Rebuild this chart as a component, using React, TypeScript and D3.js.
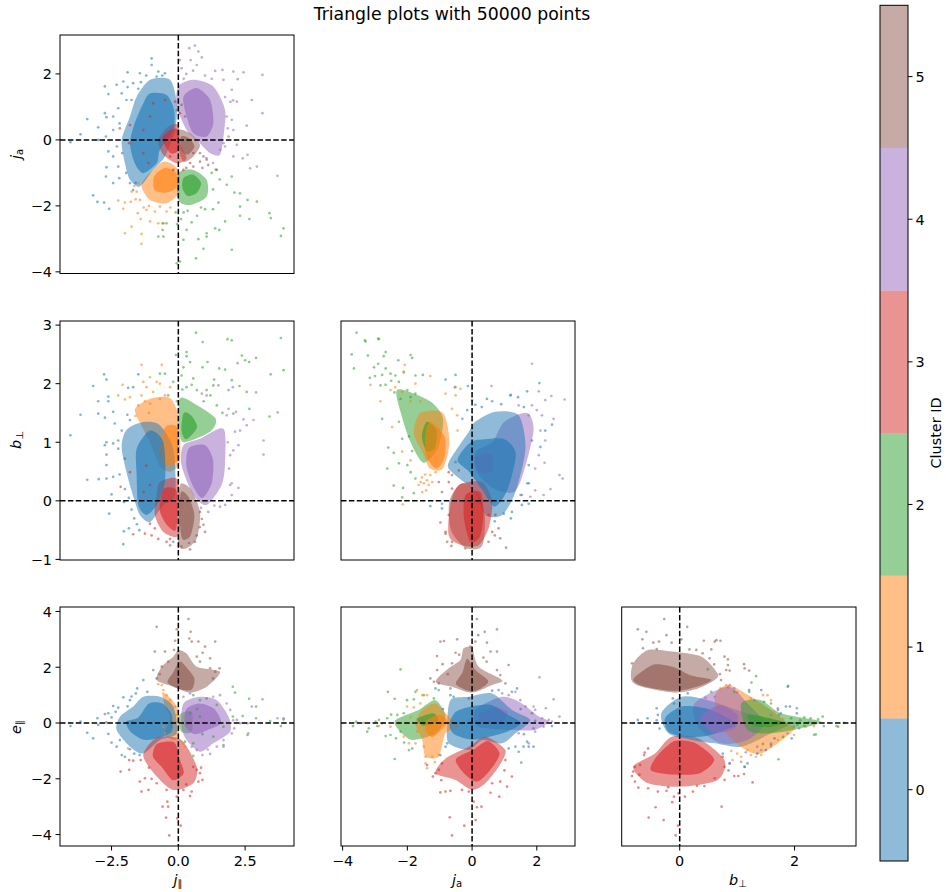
import React from "react";
import * as d3 from "d3";

// ---------- categories and axes ----------
const clusterIds = [0, 1, 2, 3, 4, 5];
const clusterColors = ["#1f77b4", "#ff7f0e", "#2ca02c", "#d62728", "#9467bd", "#8c564b"];
const jparDomain = [-4.43, 4.33];
const jaDomain = [-4.05, 3.18];
const bperpDomain = [-1.01, 3.07];
const eparDomain = [-4.41, 4.16];
const jparTicks = [-2.5, 0, 2.5];
const jaXTicks = [-4, -2, 0, 2];
const bperpXTicks = [0, 2];
const jaYTicks = [-4, -2, 0, 2];
const bperpYTicks = [-1, 0, 1, 2, 3];
const eparYTicks = [-4, -2, 0, 2, 4];

// ---------- dense regions, read as outlines: flat x,y lists per cluster ----------
const jparJaOuter = [
  [-1.06,1.82,-.31,1.82,-.06,1.11,-.12,.3,-.5,-.5,-.94,-.9,-1.44,-1.41,-1.81,-1.21,-2,-.7,-2.12,0,-1.81,.71,-1.56,1.31],
  [-1.19,-1.11,-.56,-.66,0,-.91,0,-1.62,-.44,-1.92,-1.06,-1.82,-1.38,-1.41],
  [0,-1.01,.56,-.91,1.06,-1.21,1.06,-1.72,.44,-1.97,0,-1.82],
  [-.75,0,-.38,.4,0,.45,.06,-.1,.31,-.56,-.06,-.71,-.56,-.45],
  [0,1.62,.56,1.82,1.31,1.62,1.75,.91,1.69,.1,1.56,-.45,1.19,-.4,.69,0,.31,.3,-.06,1.01],
  [0,.3,.44,.2,.81,-.15,.56,-.5,.19,-.66,0,-.2],
];
const jparJaInner = [
  [-1.06,1.41,-.44,1.36,-.16,.91,-.19,.3,-.69,-.3,-.81,-.71,-1.31,-1.01,-1.63,-.71,-1.81,-.1,-1.63,.51,-1.31,1.11],
  [-.9,-1.1,-.5,-.85,-.08,-1,-.08,-1.45,-.5,-1.6,-.9,-1.5],
  [.2,-1.15,.55,-1.05,.85,-1.3,.7,-1.6,.35,-1.7,.15,-1.45],
  [-.6,.05,-.3,.3,-.02,.3,.02,-.3,-.3,-.4],
  [.19,1.31,.69,1.57,1.19,1.21,1.31,.51,1.06,.1,.56,.2,.31,.71],
  [.1,.1,.4,.05,.6,-.2,.35,-.45,.1,-.3],
];
const jparBperpOuter = [
  [-1.69,1.29,-1.19,1.35,-.69,1.29,-.19,.89,-.12,.1,-.56,-.07,-1.06,-.36,-1.44,-.24,-1.62,-.02,-1.88,.38,-2.12,.89,-2,1.17],
  [-1.62,1.57,-1,1.75,-.3,1.75,.02,1.4,.06,.68,-.3,.5,-.7,.6,-1.06,1,-1.4,1.3],
  [.06,1.75,.7,1.63,1.4,1.4,1.19,1.18,.19,1,.05,1.25],
  [-.69,.32,-.06,.38,.06,-.02,0,-.59,-.56,-.53,-.88,-.24,-.81,.1],
  [.19,.95,.81,1.06,1.69,1.23,1.75,.66,1.62,.27,1.06,-.07,.56,.1,.12,.61],
  [.06,.27,.44,.21,.81,-.19,.69,-.64,.31,-.81,0,-.76,.04,-.24],
];
const jparBperpInner = [
  [-1.56,.89,-1.06,1.2,-.56,1,-.5,.32,-.81,-.07,-1.19,-.24,-1.5,-.07,-1.56,.44],
  [-.5,1.25,-.05,1.25,-.02,.7,-.45,.6,-.7,.8],
  [.2,1.5,.5,1.45,.7,1.25,.3,1.05,.12,1.2],
  [-.55,.2,-.1,.2,-.02,-.1,-.1,-.5,-.45,-.4,-.7,-.15],
  [.4,.9,1,.95,1.3,.7,1.25,.3,.9,.05,.55,.25,.3,.6],
  [.1,.15,.4,.05,.6,-.25,.45,-.6,.15,-.65,.05,-.3],
];
const jaBperpOuter = [
  [-.72,.66,-.1,1.18,.1,1.35,.72,1.52,1.44,1.46,1.65,.89,1.34,.15,.93,-.24,.41,-.24,.1,.15,-.62,.49],
  [-1.6,1.5,-.9,1.5,-.7,1,-.9,.55,-1.3,.55,-1.5,.8,-1.8,1.15],
  [-2.3,1.9,-1.3,1.7,-.9,1.4,-1.05,.9,-1.5,.65,-1.9,1,-2.2,1.5],
  [-.67,-.07,-.41,.27,.31,.32,.62,-.02,.51,-.47,.2,-.76,-.31,-.76,-.72,-.59],
  [.1,.83,.62,1,1,1.35,1.7,1.5,1.9,1.2,1.6,.5,1.3,.15,.7,.2,.2,.45],
  [-.7,0,-.3,.3,.2,.1,.4,-.3,.3,-.78,-.2,-.8,-.65,-.5],
];
const jaBperpInner = [
  [-.45,.7,-.05,1,.4,1.05,1,1.05,1.35,.8,1.1,.2,.7,-.1,.3,.2,-.1,.5],
  [-1.3,1.35,-.85,1.1,-.85,.75,-1.1,.55,-1.4,.75,-1.45,1.1],
  [-1.4,1.35,-1.1,1.2,-1.15,.9,-1.4,.85,-1.55,1.1],
  [-.2,.1,.25,.15,.35,-.2,.25,-.6,-.05,-.7,-.25,-.3],
  [.1,.75,.6,.8,.6,.5,.15,.5],
  [],
];
const jparEparOuter = [
  [-1.31,.94,-.69,.94,-.19,.59,-.06,-.37,-.69,-.61,-1.31,-1.09,-1.81,-.85,-2.31,-.25,-2.19,.22,-1.69,.59],
  [-.6,1.1,-.3,.9,-.02,.5,.05,-.2,-.1,-.6,-.5,-.4,-.3,.2,-.5,.6],
  [.05,.3,.5,.4,.5,-.3,.1,-.3],
  [-1.06,-.73,-.69,-.49,.12,-.61,.69,-1.57,.56,-2.16,-.19,-2.4,-.81,-1.92,-1.31,-1.21],
  [.19,.7,.81,.94,1.44,.82,1.88,.23,1.94,-.31,1.31,-.73,.81,-1.03,.31,-.61,.12,-.13],
  [0,2.62,.31,2.49,.69,2.02,1.56,1.84,1.06,1.3,.44,1.09,-.19,1.3,-.81,1.54,-.62,2.02,-.19,2.38],
];
const jparEparInner = [
  [-1.1,.7,-.6,.7,-.25,.3,-.25,-.3,-.8,-.55,-1.3,-.6,-1.8,-.3,-1.95,.05,-1.5,.2],
  [],
  [],
  [-.8,-.75,-.15,-.7,.05,-1.3,.2,-1.8,-.2,-2.05,-.6,-1.6,-.95,-1.2],
  [.3,.5,.8,.7,1.35,.5,1.6,0,1.1,-.25,.6,-.4,.25,-.1],
  [.05,2.2,.3,2,.6,1.6,.5,1.2,.1,1.2,-.4,1.45,-.2,1.8],
];
const jaEparOuter = [
  [-.67,.82,-.1,.94,.62,1.06,1.23,.47,1.8,.11,1.34,-.37,.93,-.73,.31,-.61,-.1,-.97,-.72,-.73,-.77,-.13],
  [-1.75,-.01,-1.54,.47,-1.13,.7,-.72,.23,-.41,-.13,-.82,-.37,-1.03,-1.2,-1.44,-1.2,-1.54,-.6],
  [-2.37,.11,-1.65,.47,-1.13,.82,-.82,.23,-1.13,-.37,-1.85,-.61,-2.26,-.25],
  [-.82,-1.27,-.1,-.85,.41,-.49,1.03,-.97,.82,-1.57,.41,-2.16,0,-2.4,-.51,-2.04,-1.13,-1.8],
  [.1,.47,.93,.94,1.54,.7,2.06,.23,2.37,.05,1.95,-.25,1.34,-.25,.2,-.13],
  [-.26,2.68,0,2.68,.2,2.02,.93,1.54,.62,1.36,0,1.09,-.62,1.3,-1.13,1.48,-.72,1.96,-.36,2.26],
];
const jaEparInner = [
  [-.5,.4,0,.6,.6,.65,1.1,.3,1.5,0,1.1,-.3,.5,-.5,0,-.6,-.55,-.4,-.7,-.05],
  [-1.4,.1,-1,.3,-.75,.05,-1,-.3,-1.25,-.5,-1.45,-.2],
  [-1.7,.15,-1.2,.35,-1.05,.05,-1.5,-.1],
  [-.5,-1.3,.05,-.95,.5,-.65,.85,-1.1,.55,-1.7,.15,-2.1,-.25,-1.8],
  [.2,.3,.7,.55,1.1,.4,.9,0,.3,0],
  [-.15,2.3,.1,1.9,.5,1.5,.2,1.2,-.1,1.15,-.5,1.4,-.3,1.8],
];
const bperpEparOuter = [
  [-.32,.35,.03,.94,.49,.82,1.18,.35,1.88,-.01,1.59,-.37,1.07,-.85,.61,-.73,.2,-.61,-.2,-.37],
  [.61,.94,.84,1.36,1.24,.94,1.59,.47,1.88,-.01,1.99,-.25,1.42,-1.09,1.07,-.85,.72,-.13],
  [1.07,.7,1.42,.82,1.76,.35,2.46,.05,2.11,-.19,1.59,-.37,1.18,-.25],
  [-.43,-1.09,-.14,-.49,.32,-.55,.78,-1.33,.66,-2.04,.03,-2.28,-.55,-2.16,-.81,-1.57],
  [.26,.7,.84,1.3,1.18,.7,1.47,-.01,1.18,-.61,.72,-.73,.32,-.13],
  [-.81,2.14,-.55,2.62,-.14,2.56,.38,2.38,.66,1.78,.61,1.54,.32,1.24,-.09,1.09,-.66,1.3,-.84,1.54],
];
const bperpEparInner = [
  [-.25,.2,.05,.6,.5,.5,.9,.1,.95,-.1,.5,-.45,.1,-.5,-.2,-.3],
  [],
  [1.2,.3,1.6,.15,1.8,0,1.55,-.15,1.25,-.05],
  [-.4,-1.2,-.1,-.65,.25,-.7,.6,-1.3,.35,-1.8,-.1,-1.85,-.5,-1.7],
  [.4,.3,.7,.65,1,.3,.95,-.2,.6,-.35,.4,0],
  [-.75,1.7,-.45,2.1,-.1,2,.2,1.7,.55,1.55,.3,1.3,-.1,1.15,-.6,1.3,-.8,1.5],
];

// ---------- individually readable points: flat x,y lists per cluster ----------
const jparJaPoints = [
  [-1,2.47,-1,2.27,-1.9,2.05,-1.44,2.02,-2.75,1.62,-2.31,1.67,-2.06,1.77,-2.62,1.39,-3.41,.63,-3,.38,-3.66,.17,-4.04,-.07,-3,0,-2.71,.1,-2.75,.81,-2.69,.69,-2.44,.71,-2.44,.3,-2.62,-.35,-2.44,-.5,-2.69,-.83,-2.25,-.81,-2.71,-1.11,-2.21,-1.16,-2.44,-1.31,-3.19,-1.68,-3.03,-1.88,-2.78,-1.9,-2.59,-2.09,-1.81,-1.31,-1.69,-1.52,-1.75,1.21,-1.94,1.21,-2.25,.96,-2.12,1.41,-1.69,1.72,-.75,2.07,-.5,2.02,-.81,1.92,-1.4,1.75,-1.2,1.95,-.6,1.95,-2.2,.5,-2.3,-.2,-2.1,-.4,-1.95,-1,-1.6,-1.3,-1.9,1.6,-1.5,1.55],
  [-2,-2.83,-1.38,-2.85,-1.38,-3.15,-1.75,-2.63,-1.41,-2.4,-1.06,-2.47,-1.52,-2.22,-2.06,-2.09,-2.25,-1.84,-2,-1.9,-1.78,-1.88,-.75,-2.53,-.6,-2.53,-1.56,-1.57,-1.75,-1.57,-1.19,-2.12,-.88,-2.17,-.69,-2.02,-.44,-2.17,-1.44,-1.82,-1.1,-2,-1.3,-2.05,-1.6,-1.8,-.3,-2.05,-1.5,-1.3,-1.65,-1.4],
  [-.06,-3.74,.06,-3.69,.66,-3.59,.94,-3.3,2,-3.33,3.84,-2.91,3.94,-2.68,3.41,-2.22,3.46,-2.37,2.94,-1.87,2.59,-1.82,2.66,-2.4,2.31,-2.3,2.31,-2.02,2.1,-1.6,2.31,-1.62,1.81,-1.36,2,-1.11,1.75,-2.47,1.38,-2.68,1.53,-2.73,1.06,-2.83,1.06,-2.93,.75,-3.01,.19,-3.03,.31,-2.73,-.44,-2.53,-.56,-2.53,-.59,-2.73,-.75,-2.93,-.56,-2.93,.1,-2.4,.2,-2.2,.5,-2.5,.7,-2.3,1,-2.1,1.3,-2.1,1.5,-1.9,1.3,-1.5,1.55,-1.2,1.25,-1,1.4,-.9,-.1,-2.2,-.05,-2.55,.35,-2.15,.85,-2.05],
  [-1.81,.45,-2.19,.35,-1.84,-.1,-.94,1.11,-.12,1.16,-1.31,.3,-1.12,-.7,-1.31,-.4,.06,.81,.44,-.7,.19,-.91,-.19,-.91,-.31,-.5,.56,-.4,-1.06,.71,-.5,1.21],
  [.62,2.86,.41,2.78,.88,2.5,.75,2.68,.46,2.42,.06,2.42,.69,2.27,.12,2.17,1.38,2.09,1.65,2.12,2.06,2.07,2.44,2.05,3.15,1.97,1.69,1.82,2.22,1.84,2,1.52,2.19,1.16,2.75,1.21,3.15,.81,2.56,.43,2,.61,1.81,.71,2.06,.3,1.88,.1,2.19,-.15,2.59,-.45,2.06,-.5,2.41,-.56,2.94,-.81,2.69,-.86,3.71,-1.09,1.69,-.1,1.56,-.3,.3,2,.55,2.1,1,1.95,1.25,1.85,.2,1.85,1.75,1.3,1.95,1.15,2.05,1.2,1.85,.35,1.75,-.2,1.3,-.7,1.05,-.55],
  [1.12,-.76,1.44,-.91,.81,-.66,.94,-.5,.56,-.81,1.06,-.6,-.06,.9,.12,1.06,.25,.71,.81,-.4,.9,-.85,.3,-.85],
];
const jparBperpPoints = [
  [-4.04,1.12,-3.66,1.47,-3.19,1.96,-2.78,2.16,-2.69,2.07,-3,1.7,-3,1.49,-2.62,1.78,-2.62,1.7,-2.75,1.42,-2.44,1.52,-2.38,1.32,-2.69,1,-2.75,.95,-2.44,.98,-2.69,.79,-2.25,.89,-2.69,.61,-2.69,.38,-2.98,.37,-3.41,.36,-2.44,.41,-2.5,.11,-2.59,-.22,-2.04,-.02,-2.06,-.74,-2.04,-.52,-1.85,-.47,-1.46,-.5,-1.5,2.16,-1.88,1.93,-1.69,1.94,-1.91,1.47,-1.81,1.38,-2.12,1.2,-2.25,1.03,-2,.72,-2.2,.45,-2,.2,-1.85,.05,-1.75,-.15,-1.65,-.3,-1.55,-.4],
  [-1.38,2.32,-.62,2.32,-2.09,1.98,-2.25,1.8,-2,1.73,-1.81,1.77,-1.31,2.03,-1.06,2.11,-.81,2.03,-.69,2,-1.19,1.94,-.5,1.8,-.31,1.94,-.94,1.86,-1.5,1.63,-1.38,1.8,-1.06,1.66,-.69,1.74,-1.1,1.5,-1.6,1.45,-1.25,1.7],
  [.66,2.87,.91,2.71,1.84,2.76,2,2.74,3.84,2.78,3.94,2.23,3.46,2.16,2.91,2.44,2.38,2.48,2.5,2.4,2.65,2.37,.31,2.54,.31,2.47,-.09,2.49,.44,2.37,1.09,2.37,.91,2.28,.19,2.28,1.53,2.26,1.75,2.24,-.5,2.17,-.69,2.17,.12,2.14,.56,2.09,1.34,2.07,2,2.06,2.29,1.96,2.56,1.86,1.88,1.89,1.31,1.97,1.06,1.89,.31,1.94,.69,1.89,3.41,1.44,2.66,1.57,2.06,1.49,-.19,2.03,-.38,1.8,1.44,1.63,1.2,1.8,.5,1.98,.15,1.9,-.05,1.7,.95,1.7,1.65,1.5],
  [-2.16,.24,-1.81,.49,-1.69,-.57,-1.25,-.56,-1,-.59,-.75,-.65,-1.06,-.39,-.88,-.47,-.44,-.7,-.31,-.65,-1.06,.27,-1.3,.15,-1.2,.6],
  [2.22,2.35,2.91,1.85,3.72,1.51,3.19,1.03,3.19,.79,2.81,1.38,2.44,1.39,2.56,1.29,2.31,1.2,2.12,1.18,2.16,1.52,1.88,1.57,1.5,1.97,2.04,1.94,2.25,.95,2.06,.86,1.94,.78,2,.3,2.25,.22,1.94,.27,2,.1,1.75,-.07,1.56,-.1,1.12,-.19,1.06,1.8,.88,1.83,1.81,1.46,1.9,.55,1.85,1,.85,-.12,1.35,-.08],
  [.94,-.41,1,-.53,.81,-.19,.88,-.31,.69,-.59,.44,-.83,.12,-.78,-.31,-.76,-.19,-.7,.62,-.7,.8,-.45,.4,-.72],
];
const jaBperpPoints = [
  [-.82,2.07,-.51,2.15,-.53,1.94,-.13,1.96,2.08,2.01,1.7,1.87,1.42,1.77,1.18,1.8,.46,1.74,.62,1.7,0,1.72,.1,1.64,2.47,1.3,2.26,1.2,1.85,1.03,2.11,.92,1.75,.61,1.54,-.07,1.75,-.05,1.23,-.19,.98,-.22,-1.29,-.09,-.93,-.05,-.93,-.13,-.51,.66,-.3,1.4,-.15,1.55,.3,1.6,.9,1.65,1.6,1.6,1.75,.3,1.5,.1,1.2,-.3,.7,-.35],
  [-3.14,1.98,-2.83,1.7,-2.52,1.89,-2.08,2.32,-2.11,2.19,-1.29,2.13,-.82,1.83,-.51,1.8,-.36,1.91,-.51,1.94,-2.37,1.94,-2.16,1.86,-1.75,2,-2.47,1.26,-2.16,.84,-1.9,.69,-1.59,.32,-1.49,.3,-1.39,.35,-1.29,.44,-1.54,.15,-1.34,.27,-1.42,.18,-1.23,.32,-1.65,.27,-1.13,.49,-2.14,-.06,-.46,1.46,-.62,1.57,-1.9,1.7,-1.45,.45,-1.55,.4,-1.6,1.7,-.45,1.2],
  [-3.57,2.87,-3.31,2.74,-3.29,2.72,-2.9,2.77,-2.88,2.76,-3.72,2.5,-3.22,2.48,-2.67,2.54,-2.73,2.47,-1.9,2.49,-1.85,2.44,-2.28,2.4,-3.65,2.26,-2.9,2.34,-3.03,2.28,-3.16,2.1,-3,2.13,-2.67,2.26,-2.52,2.17,-2.78,2.15,-2.37,2.14,-2.11,2.2,-1.75,2.14,-1.52,2.15,-2.67,1.98,-2.83,1.97,-2.26,2.03,-2.78,1.4,-2.21,1.74,-2,1.89,-1.9,1.77,-1.75,1.83,-2.26,1.35,-2.16,1.06,-2.59,.91,-2.42,.82,-2.62,.55,-2.26,.64,-2,.61,-2.42,.26,-2.13,.22,-2.16,.06,-1.8,.13,-1.9,.49,-1.75,.38,-2.5,2.05,-2.4,1.85,-1.95,1.1,-1.85,.85],
  [-.98,-.37,-.82,-.53,-.72,-.24,-.62,.21,-.72,.32,-1.03,.32,-.72,.49,-.41,.52,.51,-.24,.72,-.24,.82,-.47,.62,-.53,-.62,-.7],
  [1.85,2.34,.6,1.96,1.2,1.81,2.06,1.87,2.45,1.79,2.86,1.73,2.26,1.72,2.16,1.46,2.52,1.4,2.11,1.2,2.26,1.03,2.06,.78,2.24,.65,2.7,.44,2.8,.38,2.42,.2,2.21,.1,1.95,.18,1.8,.07,1.54,.1,1.75,1.46,1.44,1.63,1.85,1.63,2,1.55,1.95,.55,1.7,.3],
  [-.77,-.7,-.64,-.77,-.21,-.81,.51,-.7,1.05,-.8,.7,-.59,.87,-.64,-.82,-.56,-.93,.15,-.62,.44],
];
const jparEparPoints = [
  [-4.04,-.11,-3.66,.05,-3.41,-.35,-3.19,-.55,-3.03,.17,-3,-.07,-2.75,.32,-2.62,.35,-2.44,.61,-2.25,.55,-2.06,.92,-1.81,.82,-1.54,1.24,-1.31,1.54,-1.16,1.12,-1.59,1.06,-2.5,-.7,-2.62,-.39,-2.12,-1.15,-2,-1.21,-1.81,-.94,-2.31,-.85,-2.19,-.61,-2.7,.02,-2.5,.2,-2.35,.4,-1.9,.6,-1.75,.95,-1.45,-1.15,-1.65,-1.1],
  [-.62,1.36,-.75,1.39,-.56,1.18,-.44,1,-.31,.82,-.12,.59,-.44,.7,-.56,-.13,-.5,-.37,-.12,-.37,.19,-.73,.25,-.85,-.09,.29,-.19,.11,-1.88,-.91],
  [2.04,1.3,2.12,1.09,2.65,.87,2.91,.59,2.41,.25,2.91,.17,3.44,.07,3.84,-.11,3.94,.13,2.59,-.43,1.69,-.79,.56,-1.18,1.44,.65,1.06,.88,.81,.82,.56,1,.81,.23,.44,.35,.56,-.73,.25,-.67,1.31,-.49,1.69,-.13,2.04,.23,.31,-.01,.9,-.4,.7,.5],
  [-.34,-4.03,-.46,-3.39,.09,-3.68,-.04,-3.42,-.59,-3,-.41,-2.82,-.38,-3,.44,-2.62,.5,-2.46,-1.38,-2.46,-1.12,-2.4,-1.44,-2.1,-1.25,-1.98,-2.16,-1.74,-1.84,-1.68,-1.84,-1.33,-1.69,-1.35,-1.41,-1.33,.9,-2.04,.75,-2.1,.69,-1.68,.81,-1.8,.56,-1.57,.19,-2.4,-.44,-2.4,-.06,-2.64,-.81,-2.16,-1.1,-1.6,-1,-2,.3,-2.2,.85,-1.6],
  [3.94,.17,3.71,.17,3.15,.85,2.75,.59,2.59,-.01,2.62,-.37,2.31,-.01,2.19,.11,2.09,-.19,2,-.37,1.69,-.61,1.44,-.85,1.69,-.85,1.19,-1.11,.69,-.97,1.94,.47,1.81,.7,1.56,1,1.31,.94,.19,.94,.44,1.06,2.05,.1,1.1,-.95,.9,-1.15,.5,-.85],
  [.38,3.73,-.81,3.45,-.06,3.36,.46,3.27,.41,3.03,-.12,2.95,.5,2.92,.75,2.92,1.38,2.92,1,2.74,-.88,2.56,-.5,2.56,-.16,2.62,.91,2.52,1.19,2.32,.69,2.38,-.94,1.9,1.54,1.96,1.38,1.84,1.19,1.96,-.81,1.6,.81,2.2,-.62,2.02,-.38,2.2,-.7,1.75,1.3,1.6],
];
const jaEparPoints = [
  [-.67,1,-.57,.94,-.1,.88,.62,1.16,.82,1.18,1.23,1.12,1.39,1.24,-1.13,1.24,1.85,.35,1.95,.08,1.9,-.19,1.9,-.85,1.75,-.85,1.59,-.85,1.7,-.67,1.52,-1.42,1.44,-1.03,1.34,-.85,1.13,-.91,-.77,-.73,-.82,-.85,-.98,-1.15,2.47,-.11,-.9,.5,1.5,.5,1.6,-.4],
  [-2.88,-.11,-3.34,.01,-2.52,-.13,-2.26,-.01,-2.11,-.49,-1.8,.56,-1.7,1.18,-1.54,1,-1.39,1,-2.01,.59,-1.44,-1.21,-1.23,-1.21,-1.44,-1.45,-1.39,-1.62,-1.03,-1.15,-1.95,-.73,-1.75,-.73,-1.49,-.85,-1.9,.2,-1.7,-.3,-1.6,.7,-1.15,-1.4],
  [-3.68,-.11,-3.58,.05,-2.21,1.92,-2.6,1.12,-2.39,.87,-2.39,-1.29,-2.01,.82,-1.8,.85,-1.75,1.12,-3.19,-.19,-3.24,-.31,-2.93,-.11,-2.88,.11,-2.62,.17,-2.67,-.47,-2.52,-.43,-2.31,.29,-2.11,.35,-2.21,-.31,-1.95,-.97,-1.85,-.91,-1.49,1,-1.18,.88,-1.03,1.18,-2.78,-.01,-2.98,.05,-2.5,.3,-2.35,-.55,-2.1,-.7],
  [-.69,-3.38,-.24,-3.68,-.62,-4.03,.11,-3.48,.29,-3,.15,-3.02,.05,-2.82,.84,-2.64,.57,-2.5,-.98,-2.49,-.82,-2.46,-.67,-2.43,-1.21,-1.92,-1.13,-1.8,-1.39,-1.51,-1.03,-1.68,1.23,-1.92,1.08,-2.28,.87,-2.1,-.1,-2.46,-.31,-2.4,.62,-2.16,1.03,-1.33,-.93,-1.45,-.95,-2.05,1,-1.7],
  [2.7,.23,2.52,.85,2.28,.53,2.08,1.64,1.9,.59,1.95,.47,2.16,.17,2.37,.11,2.47,.05,2.21,-.13,1.95,-.31,1.49,.82,1.34,1.12,1.13,1,.93,1.06,1.65,.59,1.75,-.73,1.44,-.37],
  [.15,3.73,.19,3.15,.39,3.27,.77,3.36,-.46,3,-.98,2.92,-.87,2.94,.1,2.92,.46,2.88,-.05,2.74,-.51,2.52,-1.08,2.4,.57,2.56,.77,2.56,-.91,2.11,-.62,2.14,-1.08,1.9,1.13,2.08,.77,1.9,.87,1.72,1.03,1.42,-1.29,1.6,-1.18,1.48,-1.03,1.42,-.67,1.24,.45,2.2,.35,2.35,-.4,2.45,-.75,1.75],
];
const bperpEparPoints = [
  [-.73,.11,-.56,.17,-.4,.53,-.38,.29,-.12,.88,.14,1.06,1.88,1.3,1.85,.59,1.92,.59,2.04,.53,2.04,.35,1.71,.47,1.95,-.55,1.59,-.79,1.5,-.97,1.18,-1.45,1.13,-1.57,.87,-1.45,1.21,1.18,1.42,1.18,-.4,.1,-.35,-.2,-.1,.7,.75,-1.1,1.35,-1.1,1.65,-.55],
  [.81,1.36,.71,1.24,1.45,1,1.53,1,1.59,.82,1.24,.88,1.33,-1.21,1.24,-1.15,1.42,-1.15,1.18,-.97,1.99,-.43,2.2,-.13,2.34,-.11,1.71,-.61,1.59,-.85,1.07,-1.21,.92,-1.33,.72,-1.21,1,-1.1,1.65,.4,1.8,.15,.9,-1],
  [1.89,1.33,1.25,1.45,1.33,1.68,.49,1.92,1.21,1.12,.95,1.12,.55,1.12,2.73,-.11,2.76,-.13,2.86,.01,2.49,.23,2.41,.13,2.28,.17,2.17,.2,2.51,-.11,2.37,-.41,2.34,-.42,2.17,-.11,2.05,-.07,1.72,-1.3,1.13,-1.57,1.47,.76,1.59,.7,1.76,.35,1.94,.17,1.99,-.01,2.25,.02,2.1,.1,1.8,-.5,1.45,-.75],
  [-.07,-4.03,-.03,-3.68,-.54,-3.39,-.28,-3.48,-.42,-3.02,.73,-3,-.13,-2.84,-.1,-2.64,-.02,-2.52,.09,-2.64,.23,-2.46,.43,-2.26,1.27,-2.13,1.12,-1.83,1.02,-1.9,.95,-1.9,.78,-2.04,.61,-1.98,-.83,-1.9,-.81,-1.74,-.72,-2.32,-.78,-2.1,-.55,-2.34,-.38,-2.46,-.23,-2.43,-.62,-1.15,-.55,-.91,-.61,-1.06,-.78,-1.57,-.69,-1.5,.75,-1.21,.78,-1.57,.3,-2.25,-.2,-2.3,-.7,-1.85,.85,-1.7],
  [.87,1.36,.95,1.24,.84,1.28,1.3,.82,1.71,.53,1.59,.29,1.73,.29,1.59,-.73,1.42,-.97,1.07,-1.39,.87,-1.45,1.99,-.13,2.08,-.19,1.88,-.37,.61,.94,.45,.9,1,1.1,1.35,-.85,1.15,-1.05],
  [-.27,3.73,.13,3.45,-.73,3.36,-.58,3.27,-.23,3.15,.03,3,-.65,3,-.46,2.88,-.36,2.92,-.14,2.88,.42,2.95,.64,2.97,.71,2.95,.61,2.92,-.64,2.68,.17,2.64,.29,2.62,.55,2.64,.4,2.5,.52,2.32,.78,2.38,.84,2.28,.84,2.08,.81,1.9,1.12,2.11,1.13,1.96,1.21,1.88,.87,1.88,-.83,2.14,.72,1.54,-.4,2.65,.6,2.1,.7,1.75],
];

// ---------- draw order per panel ----------
const jparJaOrder = [1, 2, 0, 4, 5, 3];
const jparBperpOrder = [1, 0, 4, 2, 5, 3];
const jaBperpOrder = [4, 0, 5, 3, 2, 1];
const jparEparOrder = [5, 1, 2, 0, 4, 3];
const jaEparOrder = [5, 4, 0, 2, 1, 3];
const bperpEparOrder = [5, 3, 0, 1, 4, 2];

const colorbarTicks = [0, 1, 2, 3, 4, 5];

function chunk(flat: number[]): [number, number][] {
  const out: [number, number][] = [];
  for (let i = 0; i + 1 < flat.length; i += 2) out.push([flat[i], flat[i + 1]]);
  return out;
}

const FONT = "'DejaVu Sans', sans-serif";
const TICK = 14.4;
const col = { a: [60, 294], b: [341, 575], c: [621.7, 856] };
const row = { a: [35, 273.5], b: [321, 560], c: [607, 846] };

function Panel(p: any) {
  const x = d3.scaleLinear().domain(p.xDomain).range(p.xr);
  const y = d3.scaleLinear().domain(p.yDomain).range([p.yr[1], p.yr[0]]);
  const area = d3.line<[number, number]>().x((d) => x(d[0])).y((d) => y(d[1])).curve(d3.curveCardinalClosed.tension(0.2));
  const clip = `clip-${p.id}`;
  return (
    <g>
      <clipPath id={clip}>
        <rect x={p.xr[0]} y={p.yr[0]} width={p.xr[1] - p.xr[0]} height={p.yr[1] - p.yr[0]} />
      </clipPath>
      <g clipPath={`url(#${clip})`}>
        {p.order.map((c: number) =>
          p.outer[c].length ? (
            <path key={"o" + c} d={area(chunk(p.outer[c])) || ""} fill={clusterColors[c]} fillOpacity={0.5} />
          ) : null
        )}
        {p.order.map((c: number) =>
          p.inner[c].length ? (
            <path key={"i" + c} d={area(chunk(p.inner[c])) || ""} fill={clusterColors[c]} fillOpacity={0.62} />
          ) : null
        )}
        {p.order.map((c: number) =>
          chunk(p.points[c]).map((d, i) => (
            <circle key={c + "-" + i} cx={x(d[0])} cy={y(d[1])} r={1.35} fill={clusterColors[c]} fillOpacity={0.55} />
          ))
        )}
        <line x1={x(0)} x2={x(0)} y1={p.yr[0]} y2={p.yr[1]} stroke="#000" strokeWidth={1.5} strokeDasharray="5.5 2.4" />
        <line x1={p.xr[0]} x2={p.xr[1]} y1={y(0)} y2={y(0)} stroke="#000" strokeWidth={1.5} strokeDasharray="5.5 2.4" />
      </g>
      <rect x={p.xr[0]} y={p.yr[0]} width={p.xr[1] - p.xr[0]} height={p.yr[1] - p.yr[0]} fill="none" stroke="#000" strokeWidth={1} />
      {(p.xTicks || []).map((t: number) => (
        <g key={"x" + t}>
          <line x1={x(t)} x2={x(t)} y1={p.yr[1]} y2={p.yr[1] + 4.5} stroke="#000" strokeWidth={1} />
          <text x={x(t)} y={p.yr[1] + 20} textAnchor="middle" fontFamily={FONT} fontSize={TICK}>
            {p.xFmt(t)}
          </text>
        </g>
      ))}
      {(p.yTicks || []).map((t: number) => (
        <g key={"y" + t}>
          <line x1={p.xr[0] - 4.5} x2={p.xr[0]} y1={y(t)} y2={y(t)} stroke="#000" strokeWidth={1} />
          <text x={p.xr[0] - 8} y={y(t) + 5.3} textAnchor="end" fontFamily={FONT} fontSize={TICK}>
            {String(t).replace("-", "\u2212")}
          </text>
        </g>
      ))}
    </g>
  );
}

function SubLabel({ x, y, base, sub, rotate }: any) {
  return (
    <text
      x={x}
      y={y}
      textAnchor="middle"
      fontFamily={FONT}
      fontSize={14.4}
      transform={rotate ? `rotate(-90 ${x} ${y})` : undefined}
    >
      <tspan fontStyle="italic">{base}</tspan>
      <tspan dy={2.2} fontSize={10}>{sub}</tspan>
    </text>
  );
}

export default function App() {
  const fmtDecimal = (t: number) => t.toFixed(1).replace("-", "\u2212");
  const fmtInt = (t: number) => String(t).replace("-", "\u2212");
  const cbY = d3.scaleLinear().domain([-0.5, 5.5]).range([861, 5.3]);
  return (
    <svg width={946} height={892} style={{ position: "absolute", left: 0, top: 0, background: "#fff" }}>
      <text x={452} y={19.5} textAnchor="middle" fontFamily={FONT} fontSize={17.3}>
        Triangle plots with 50000 points
      </text>

      <Panel id="p1" xDomain={jparDomain} yDomain={jaDomain} xr={col.a} yr={row.a} yTicks={jaYTicks}
        outer={jparJaOuter} inner={jparJaInner} points={jparJaPoints} order={jparJaOrder} />
      <Panel id="p2" xDomain={jparDomain} yDomain={bperpDomain} xr={col.a} yr={row.b} yTicks={bperpYTicks}
        outer={jparBperpOuter} inner={jparBperpInner} points={jparBperpPoints} order={jparBperpOrder} />
      <Panel id="p3" xDomain={jaDomain} yDomain={bperpDomain} xr={col.b} yr={row.b}
        outer={jaBperpOuter} inner={jaBperpInner} points={jaBperpPoints} order={jaBperpOrder} />
      <Panel id="p4" xDomain={jparDomain} yDomain={eparDomain} xr={col.a} yr={row.c} yTicks={eparYTicks} xTicks={jparTicks} xFmt={fmtDecimal}
        outer={jparEparOuter} inner={jparEparInner} points={jparEparPoints} order={jparEparOrder} />
      <Panel id="p5" xDomain={jaDomain} yDomain={eparDomain} xr={col.b} yr={row.c} xTicks={jaXTicks} xFmt={fmtInt}
        outer={jaEparOuter} inner={jaEparInner} points={jaEparPoints} order={jaEparOrder} />
      <Panel id="p6" xDomain={bperpDomain} yDomain={eparDomain} xr={col.c} yr={row.c} xTicks={bperpXTicks} xFmt={fmtInt}
        outer={bperpEparOuter} inner={bperpEparInner} points={bperpEparPoints} order={bperpEparOrder} />

      <SubLabel x={178} y={885} base="j" sub={"\u2225"} />
      <SubLabel x={457} y={885} base="j" sub="a" />
      <SubLabel x={738} y={885} base="b" sub={"\u22A5"} />
      <SubLabel x={21} y={154} base="j" sub="a" rotate />
      <SubLabel x={21} y={440} base="b" sub={"\u22A5"} rotate />
      <SubLabel x={21} y={727} base="e" sub={"\u2225"} rotate />

      {clusterIds.map((c) => (
        <rect key={c} x={880} y={cbY(c + 0.5)} width={28} height={cbY(c - 0.5) - cbY(c + 0.5)} fill={clusterColors[c]} fillOpacity={0.5} />
      ))}
      <rect x={880} y={5.3} width={28} height={855.7} fill="none" stroke="#000" strokeWidth={1} />
      {colorbarTicks.map((t) => (
        <g key={t}>
          <line x1={908} x2={912.5} y1={cbY(t)} y2={cbY(t)} stroke="#000" strokeWidth={1} />
          <text x={915.5} y={cbY(t) + 5.3} fontFamily={FONT} fontSize={TICK}>{t}</text>
        </g>
      ))}
      <text x={941} y={433} textAnchor="middle" fontFamily={FONT} fontSize={14.4} transform="rotate(-90 941 433)">
        Cluster ID
      </text>
    </svg>
  );
}
